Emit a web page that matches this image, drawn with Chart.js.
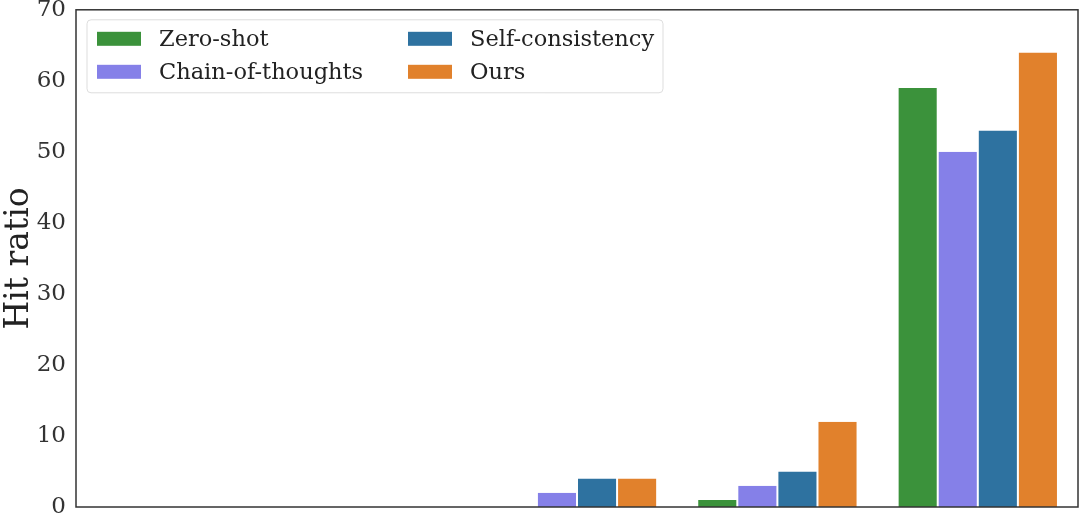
<!DOCTYPE html>
<html>
<head>
<meta charset="utf-8">
<script src="https://cdn.jsdelivr.net/npm/chart.js@4.4.1/dist/chart.umd.min.js"></script>
<style>
  html, body { margin: 0; padding: 0; background: #fff; overflow: hidden; }
  #wrap { width: 1080px; height: 560px; margin-top: -14px; }
</style>
</head>
<body>
<div id="wrap"><canvas id="hitChart"></canvas></div>
<script>
// groups along the x axis (their labels fall below the visible frame)
const categories = ['Level 1', 'Level 2', 'Level 3', 'Level 4', 'Level 5'];
const zeroShot = [0, 0, 0, 1, 59];
const chainOfThoughts = [0, 0, 2, 3, 50];
const selfConsistency = [0, 0, 4, 5, 53];
const ours = [0, 0, 4, 12, 64];
const yTicks = [0, 10, 20, 30, 40, 50, 60, 70];

const seriesNames = ['Zero-shot', 'Chain-of-thoughts', 'Self-consistency', 'Ours'];
const seriesColors = ['#3b923b', '#8580e8', '#2e72a0', '#e1812c'];
const seriesData = [zeroShot, chainOfThoughts, selfConsistency, ours];

const SERIF = "'DejaVu Serif', serif";

// frame around the plot + legend box in two columns
const framePlugin = {
    id: 'frame',
    afterDraw(chart) {
        const { ctx, chartArea: a } = chart;
        ctx.save();
        ctx.strokeStyle = '#333';
        ctx.lineWidth = 1.5;
        ctx.strokeRect(a.left, a.top, a.right - a.left, a.bottom - a.top);

        // legend
        const bx = a.left + 11, by = a.top + 10, bw = 576, bh = 73;
        ctx.fillStyle = 'rgba(255,255,255,0.8)';
        ctx.strokeStyle = '#ddd';
        ctx.lineWidth = 1;
        ctx.beginPath();
        ctx.roundRect(bx, by, bw, bh, 4);
        ctx.fill();
        ctx.stroke();
        ctx.font = '22.5px ' + SERIF;
        ctx.textBaseline = 'middle';
        chart.data.datasets.forEach((ds, i) => {
            const col = Math.floor(i / 2), row = i % 2;
            const x = bx + 10 + col * 311;
            const y = by + 19 + row * 33;
            ctx.fillStyle = ds.backgroundColor;
            ctx.fillRect(x, y - 7, 44, 14);
            ctx.fillStyle = '#222';
            ctx.fillText(ds.label, x + 62, y + 1);
        });
        ctx.restore();
    }
};

new Chart(document.getElementById('hitChart'), {
    type: 'bar',
    data: {
        labels: categories,
        datasets: seriesNames.map((name, i) => ({
            label: name,
            data: seriesData[i],
            backgroundColor: seriesColors[i],
            borderColor: 'rgba(255,255,255,0.7)',
            borderWidth: { left: 1, right: 1, top: 0, bottom: 0 },
            borderSkipped: false,
            categoryPercentage: 0.8,
            barPercentage: 1.0
        }))
    },
    options: {
        responsive: true,
        maintainAspectRatio: false,
        animation: false,
        layout: { padding: { top: 0, right: 2, left: 0, bottom: 0 } },
        plugins: {
            legend: { display: false },
            tooltip: { enabled: false }
        },
        scales: {
            x: {
                grid: { display: false, drawTicks: false },
                border: { display: false },
                ticks: { color: '#333', font: { family: SERIF, size: 23 }, padding: 8 },
                afterFit: s => { s.height = 39; }
            },
            y: {
                min: 0,
                max: 70,
                afterBuildTicks: s => { s.ticks = yTicks.map(v => ({ value: v })); },
                grid: { display: false, drawTicks: false },
                border: { display: false },
                ticks: { color: '#333', font: { family: SERIF, size: 23 }, padding: 10 },
                title: {
                    display: true,
                    text: 'Hit ratio',
                    color: '#222',
                    font: { family: SERIF, size: 33 },
                    padding: { top: 0, bottom: 2 }
                },
                afterFit: s => { s.width = 76; }
            }
        }
    },
    plugins: [framePlugin]
});
</script>
</body>
</html>
